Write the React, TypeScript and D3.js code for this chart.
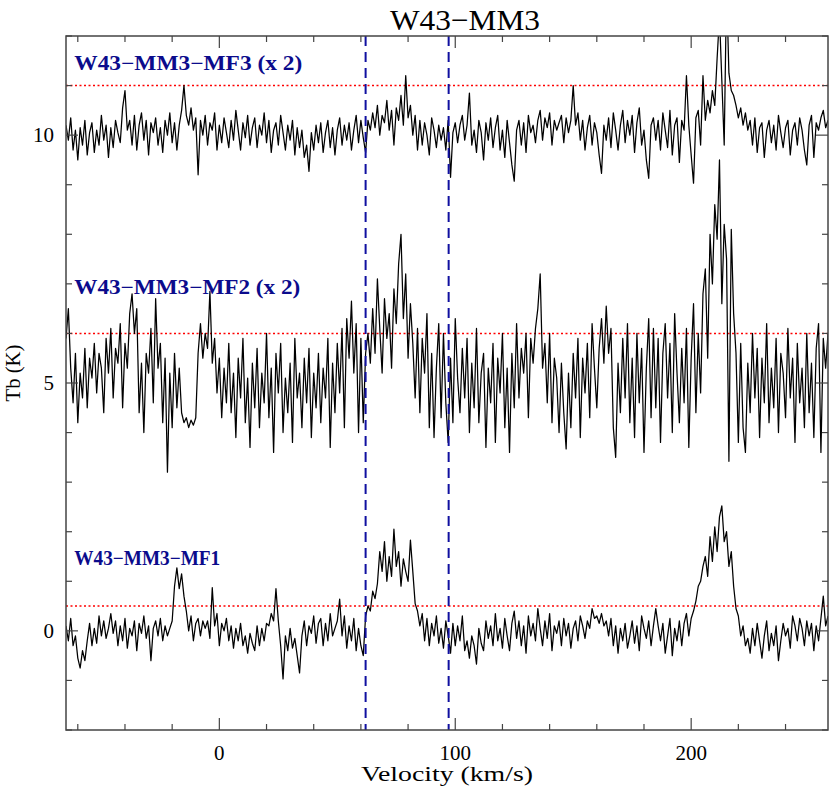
import React from 'react';
import * as d3 from 'd3';

const dim = {
  width: 830,
  height: 787,
  left: 66,
  right: 828,
  top: 36,
  bottom: 730,
};

// channel grid of the spectra (km/s)
const velStart = -65;
const chanWidth = 1;

// W43-MM3-MF1, Tb (K), no offset
const mf1 = [
  0.1, -0.2, 0.25, -0.3, -0.1, -0.55, -0.75, -0.4, -0.6, -0.2,
  0.15, -0.3, 0.05, -0.25, 0.3, -0.1, 0.2, -0.15, 0.05, 0.35,
  -0.05, 0.2, -0.3, 0.1, -0.2, 0.25, -0.35, 0.05, -0.1, 0.2,
  -0.4, 0.15, -0.05, 0.3, -0.15, 0.1, -0.6, 0.05, 0.2, -0.1,
  0.25, -0.2, 0.1, -0.1, 0.05, 0.2, 0.9, 1.27, 0.85, 1.15,
  0.7, 0.4, 0.0, 0.3, -0.2, 0.15, 0.25, -0.1, 0.2, 0.05,
  0.2, -0.15, 0.87, 0.1, 0.35, -0.3, 0.15, 0.0, 0.25, -0.2,
  0.1, -0.35, 0.05, -0.2, 0.15, -0.3, -0.1, -0.45, -0.05, -0.25,
  -0.4, 0.1, -0.3, 0.05, -0.2, 0.15, 0.1, 0.35, 0.2, 0.85,
  0.2, -0.3, -0.97, -0.1, -0.4, 0.05, -0.35, -0.15, -0.5, -0.85,
  -0.1, 0.2, -0.3, 0.1, -0.05, 0.3, -0.25, 0.15, 0.25, -0.3,
  0.15, -0.2, 0.35, -0.1, 0.05, 0.2, 0.64, -0.1, 0.3, -0.35,
  0.1, -0.2, 0.25, -0.4, 0.05, -0.3, -0.5, 0.3, 0.5, 0.4,
  0.8, 0.65, 0.95, 1.6, 1.2, 1.8, 1.0, 1.5, 1.1, 2.05,
  1.3, 1.6, 0.9, 1.45, 1.2, 1.0, 1.83, 1.2, 0.55, 0.4,
  0.1, 0.35, -0.2, 0.25, -0.3, 0.15, -0.1, 0.3, -0.25, 0.05,
  -0.35, 0.2, -0.1, -0.45, 0.15, -0.3, 0.1, -0.2, 0.3, -0.4,
  -0.2, -0.55, -0.1, -0.3, -0.67, 0.05, -0.25, -0.4, 0.2, -0.15,
  0.1, -0.3, 0.35, -0.2, 0.05, -0.35, 0.25, -0.1, -0.4, 0.15,
  0.4, -0.15, 0.2, -0.3, 0.1, -0.45, 0.3, -0.1, 0.15, -0.2,
  0.45, 0.05, -0.3, 0.2, -0.15, 0.35, -0.4, 0.1, -0.05, 0.2,
  -0.3, 0.25, -0.1, 0.15, -0.35, 0.05, 0.2, -0.2, 0.3, 0.1,
  -0.15, 0.2, 0.05, 0.45, 0.25, 0.3, 0.15, 0.35, 0.1, 0.2,
  -0.1, 0.25, -0.3, 0.1, -0.45, 0.05, -0.2, 0.15, -0.35, -0.1,
  0.2, -0.25, 0.1, -0.4, 0.3, 0.05, -0.15, 0.2, -0.3, 0.1,
  0.45, 0.1, -0.2, 0.15, -0.45, -0.1, 0.25, -0.5, 0.05, -0.2,
  0.2, -0.3, 0.15, 0.35, -0.1, 0.25, 0.4, 0.6, 0.9, 1.0,
  1.3, 1.5, 1.1, 1.9, 1.4, 2.1, 1.6, 2.3, 2.52, 1.8,
  2.0, 1.3, 1.6, 0.9, 0.45, 0.3, -0.1, 0.1, -0.3, -0.15,
  -0.45, 0.05, -0.3, 0.15, -0.2, -0.55, -0.1, 0.2, -0.4, -0.05,
  -0.3, 0.1, -0.6, -0.2, 0.15, -0.1, 0.05, -0.35, 0.3, 0.1,
  -0.2, 0.25, 0.05, -0.3, 0.2, -0.1, 0.15, -0.4, 0.1, -0.2,
  0.25, 0.7, 0.1, 0.3,
];

// W43-MM3-MF2 (x 2), deviation from its offset
const mf2 = [
  0.9, 1.5, 0.3, -0.4, 0.6, -0.8, 0.2, -0.3, 0.7, -0.5,
  0.5, 0.1, 0.8, -0.2, 0.6, 0.3, -0.6, 0.9, 0.2, 1.1,
  -0.3, 0.7, 0.4, 1.2, -0.5, 0.8, 0.3, 1.4, 1.8, 1.0,
  1.5, -0.6, 0.4, -1.0, 0.6, 0.2, 1.1, -0.4, 1.7, 0.3,
  0.8, -0.8, 0.5, -1.8, 0.2, -0.9, 0.6, -0.5, 0.3, -0.6,
  -0.8, -0.7, -0.9, -0.75, -0.85, -0.7, 0.6, 1.2, 0.5, 1.0,
  0.7, 1.85, 0.4, 0.9, -0.2, 0.5, -0.7, 0.3, -0.4, 0.8,
  -0.6, 0.2, -1.1, 0.5, -0.3, 0.9, -0.8, 0.1, -1.3, 0.4,
  -0.5, 0.7, -0.9, 0.2, -0.4, 1.0, -0.7, 0.3, -1.4, 0.6,
  -0.2, 0.8, -1.0, 0.1, -0.6, 0.4, -1.2, 0.9, -0.3, 0.2,
  -0.9, 0.5, -0.4, 0.7, -1.1, 0.2, -0.5, 0.6, -0.8, 0.3,
  -0.3, 0.9, -1.3, 0.4, -0.6, 0.8, -0.2, 1.1, -0.9, 1.3,
  0.5, 1.65, 0.2, 1.2, -1.0, 0.9, -0.8, 0.6, 1.0, 0.4,
  1.5, 0.6, 2.1, 1.1, 0.2, 1.7, 0.9, 1.4, 0.3, 1.9,
  1.2, 2.4, 3.0, 1.3, 2.2, 0.5, 1.6, 0.8, -0.3, 1.1,
  -0.6, 0.9, 0.2, 1.4, -0.9, 0.6, -1.1, 0.3, 1.2, -0.7,
  1.0, -0.4, -1.2, 0.5, -0.8, 1.3, 0.1, -0.6, 0.7, -0.3,
  0.9, -1.0, 0.4, -0.5, 1.1, -0.8, 0.2, 0.6, -1.3, 0.3,
  -0.4, 0.8, -1.2, 0.5, -0.2, 1.0, -0.9, 0.3, -1.4, 0.6,
  -0.5, 1.2, -0.3, 0.7, 0.2, 1.0, -0.7, 0.9, 0.4, 1.1,
  1.5, 2.2, 0.3, 0.8, -0.4, 1.0, -0.8, 0.5, 0.1, -1.0,
  0.4, -0.6, -1.33, 0.2, -0.9, 0.6, -0.3, 0.9, -1.1, 0.5,
  -0.2, 0.8, -0.7, 1.2, 0.3, -0.5, 0.7, 1.3, 0.4, 1.55,
  0.6, 1.1, -0.9, -1.5, 0.4, -0.6, 0.9, -0.3, 1.2, -0.8,
  0.5, -1.1, 1.0, -0.4, 0.7, -1.4, 0.3, 1.3, -0.7, 1.1,
  -0.5, 0.9, -1.2, 0.6, 1.2, -0.3, 0.8, -1.0, 1.4, 0.2,
  -0.8, 0.7, -0.4, 1.1, -1.3, 0.5, 1.6, -0.6, 1.0, -0.2,
  1.8, 2.3, 0.5, 3.0, 2.0, 3.6, 2.9, 4.5, 1.6, 3.2,
  2.5, -1.58, 3.1, 1.4, 0.6, -1.2, 0.8, -0.9, -1.4, 0.4,
  -0.6, 1.0, -0.3, 0.7, -1.1, 0.5, -0.4, 1.2, -0.8, 0.3,
  -0.5, 0.9, -1.0, 0.6, 0.2, -0.7, 1.1, -0.3, 0.5, -1.2,
  0.8, -0.4, 0.3, -0.9, 1.0, -0.6, 0.4, -1.1, 0.7, 1.2,
  -1.4, 0.9, 0.3, 1.0,
];

// W43-MM3-MF3 (x 2), deviation from its offset
const mf3 = [
  0.2, -0.1, 0.35, -0.3, 0.1, -0.5, 0.15, -0.2, 0.3, -0.4,
  0.05, 0.25, -0.35, 0.1, -0.2, 0.4, -0.1, 0.2, -0.45, 0.15,
  -0.25, 0.3, 0.05, -0.15, 0.55, 0.9, 0.1, 0.3, -0.2, 0.4,
  -0.3, 0.2, 0.45, -0.1, 0.3, -0.4, 0.25, 0.05, 0.35, -0.2,
  0.15, -0.35, 0.3, 0.0, 0.45, -0.15, 0.25, -0.3, 0.2, 0.5,
  1.0, 0.4, 0.2, 0.55, 0.1, 0.35, -0.8, 0.3, 0.0, 0.4,
  -0.2, 0.25, 0.1, 0.45, -0.3, 0.2, -0.15, 0.35, 0.05, -0.25,
  0.3, -0.1, 0.5, 0.1, -0.3, 0.25, -0.05, 0.4, -0.2, 0.15,
  0.35, -0.25, 0.2, 0.0, 0.45, -0.15, 0.3, -0.35, 0.1, 0.25,
  -0.2, 0.4, 0.05, -0.3, 0.2, -0.1, 0.3, -0.4, 0.15, -0.25,
  0.1, -0.45, -0.2, -0.73, 0.05, -0.3, 0.2, -0.15, 0.25, -0.35,
  0.05, 0.3, -0.25, 0.15, -0.4, 0.1, 0.35, -0.2, 0.2, -0.1,
  0.25, -0.3, 0.1, 0.4, -0.15, 0.3, -0.05, -0.35, 0.3, 0.1,
  0.45, 0.15, 0.6, 0.0, 0.4, 0.25, 0.7, 0.1, 0.5, -0.2,
  0.55, 0.3, 0.8, 0.2, 1.2, 0.35, 0.6, 0.0, 0.4, -0.3,
  0.3, -0.2, 0.25, 0.0, -0.4, 0.35, 0.1, -0.25, 0.2, -0.1,
  0.15, -0.3, 0.3, -0.85, 0.05, 0.25, -0.15, 0.2, 0.4, -0.1,
  0.2, 0.85, -0.2, 0.1, -0.35, 0.3, 0.05, -0.5, 0.25, -0.1,
  0.35, -0.25, 0.15, 0.4, -0.3, 0.1, -0.45, 0.3, -0.15, -0.6,
  -0.93, 0.1, 0.3, -0.2, 0.25, -0.35, 0.4, 0.05, 0.2, -0.15,
  0.3, 0.5, -0.1, 0.35, 0.15, 0.45, -0.2, 0.3, 0.1, 0.25,
  0.4, -0.15, 0.35, 0.05, 0.3, 1.0, 0.2, 0.45, -0.1, 0.3,
  -0.3, 0.15, 0.4, -0.2, 0.25, 0.05, -0.4, -0.77, 0.2, -0.1,
  0.35, -0.25, 0.45, 0.1, -0.3, 0.2, 0.5, -0.15, 0.3, 0.0,
  0.4, -0.35, 0.25, 0.55, -0.2, 0.1, -0.5, -0.87, 0.2, 0.35,
  -0.1, 0.3, -0.3, 0.45, 0.1, -0.25, 0.5, -0.4, 0.2, 0.35,
  -0.55, 0.3, 0.1, 1.2, 0.2, -0.4, -0.97, 0.35, 0.5, -0.2,
  1.2, 0.3, 0.7, 0.45, 0.9, 0.6, 1.55, 2.4, 1.1, -0.2,
  3.0, 1.25, 0.9, 0.8, 0.6, 0.35, 0.55, 0.2, 0.45, 0.1,
  0.3, -0.2, 0.35, -0.35, 0.15, 0.25, -0.45, 0.1, 0.3, -0.15,
  0.2, -0.3, 0.4, 0.05, -0.25, 0.15, 0.3, -0.4, 0.1, 0.25,
  -0.2, 0.35, 0.1, -0.3, -0.6, 0.2, 0.4, -0.45, 0.25, 0.1,
  0.35, 0.5, 0.15, 0.3,
];

const spectra = [
  { name: 'W43\u2212MM3\u2212MF1', values: mf1, offset: 0, level: 0.5, labelY: 1.47, labelLen: 146 },
  { name: 'W43\u2212MM3\u2212MF2 (x 2)', values: mf2, offset: 5, level: 6, labelY: 6.94, labelLen: 226 },
  { name: 'W43\u2212MM3\u2212MF3 (x 2)', values: mf3, offset: 10, level: 11, labelY: 11.45, labelLen: 228 },
];

const vLines = [62, 97.2];
const xTickLabels = [0, 100, 200];
const yTickLabels = [0, 5, 10];

const labelColor = '#0b0b8c';
const frameColor = '#444';

const App = () => {
  const x = d3.scaleLinear().domain([-65, 258]).range([dim.left, dim.right]);
  const y = d3.scaleLinear().domain([-2, 12]).range([dim.bottom, dim.top]);

  const line = d3
    .line<number>()
    .x((_, i) => x(velStart + i * chanWidth))
    .y((d) => y(d));

  const xMinor = d3.range(-60, 258, 20);
  const yMinor = d3.range(-2, 12.01, 1);

  const serif = '"Liberation Serif", "DejaVu Serif", serif';

  return (
    <svg
      width={dim.width}
      height={dim.height}
      style={{ position: 'absolute', left: 0, top: 0, background: '#fff' }}
    >
      <defs>
        <clipPath id="plot-area">
          <rect x={dim.left} y={dim.top} width={dim.right - dim.left} height={dim.bottom - dim.top} />
        </clipPath>
      </defs>

      {/* title */}
      <text
        x={465}
        y={30}
        textAnchor="middle"
        fontFamily={serif}
        fontSize={30}
        textLength={150}
        lengthAdjust="spacingAndGlyphs"
      >
        W43{'\u2212'}MM3
      </text>

      <g clipPath="url(#plot-area)">
        {/* threshold levels */}
        {spectra.map((s) => (
          <line
            key={'lvl' + s.name}
            x1={dim.left}
            x2={dim.right}
            y1={y(s.level)}
            y2={y(s.level)}
            stroke="#ff0000"
            strokeWidth={1.6}
            strokeDasharray="2,2.5"
          />
        ))}

        {spectra.map((s) => (
          <path
            key={s.name}
            d={line(s.values.map((v) => v + s.offset)) || ''}
            fill="none"
            stroke="#000"
            strokeWidth={1.25}
            strokeLinejoin="round"
          />
        ))}

        {vLines.map((v) => (
          <line
            key={'v' + v}
            x1={x(v)}
            x2={x(v)}
            y1={dim.top}
            y2={dim.bottom}
            stroke="#1010a0"
            strokeWidth={2}
            strokeDasharray="10,6"
          />
        ))}
      </g>

      {/* spectrum labels */}
      {spectra.map((s) => (
        <text
          key={'lab' + s.name}
          x={x(-61.5)}
          y={y(s.labelY)}
          dy="0.35em"
          fill={labelColor}
          fontFamily={serif}
          fontWeight="bold"
          fontSize={20}
          textLength={s.labelLen}
          lengthAdjust="spacingAndGlyphs"
        >
          {s.name}
        </text>
      ))}

      {/* frame */}
      <rect
        x={dim.left}
        y={dim.top}
        width={dim.right - dim.left}
        height={dim.bottom - dim.top}
        fill="none"
        stroke={frameColor}
        strokeWidth={1.5}
      />

      {/* x ticks, bottom and top */}
      {xMinor.map((t) => {
        const len = t % 100 === 0 ? 12 : 6;
        return (
          <g key={'xt' + t} stroke={frameColor} strokeWidth={1.2}>
            <line x1={x(t)} x2={x(t)} y1={dim.bottom} y2={dim.bottom - len} />
            <line x1={x(t)} x2={x(t)} y1={dim.top} y2={dim.top + len} />
          </g>
        );
      })}
      {/* y ticks, left and right */}
      {yMinor.map((t) => {
        const len = t % 5 === 0 ? 12 : 6;
        return (
          <g key={'yt' + t} stroke={frameColor} strokeWidth={1.2}>
            <line x1={dim.left} x2={dim.left + len} y1={y(t)} y2={y(t)} />
            <line x1={dim.right} x2={dim.right - len} y1={y(t)} y2={y(t)} />
          </g>
        );
      })}

      {xTickLabels.map((t) => (
        <text
          key={'xl' + t}
          x={x(t)}
          y={760}
          textAnchor="middle"
          fontFamily={serif}
          fontSize={21}
        >
          {t}
        </text>
      ))}
      {yTickLabels.map((t) => (
        <text
          key={'yl' + t}
          x={54}
          y={y(t)}
          dy="0.35em"
          textAnchor="end"
          fontFamily={serif}
          fontSize={21}
        >
          {t}
        </text>
      ))}

      <text
        x={447}
        y={781}
        textAnchor="middle"
        fontFamily={serif}
        fontSize={20}
        textLength={172}
        lengthAdjust="spacingAndGlyphs"
      >
        Velocity (km/s)
      </text>
      <text
        transform={`translate(20,${373}) rotate(-90)`}
        textAnchor="middle"
        fontFamily={serif}
        fontSize={20}
        textLength={57}
        lengthAdjust="spacingAndGlyphs"
      >
        Tb (K)
      </text>
    </svg>
  );
};

export default App;
